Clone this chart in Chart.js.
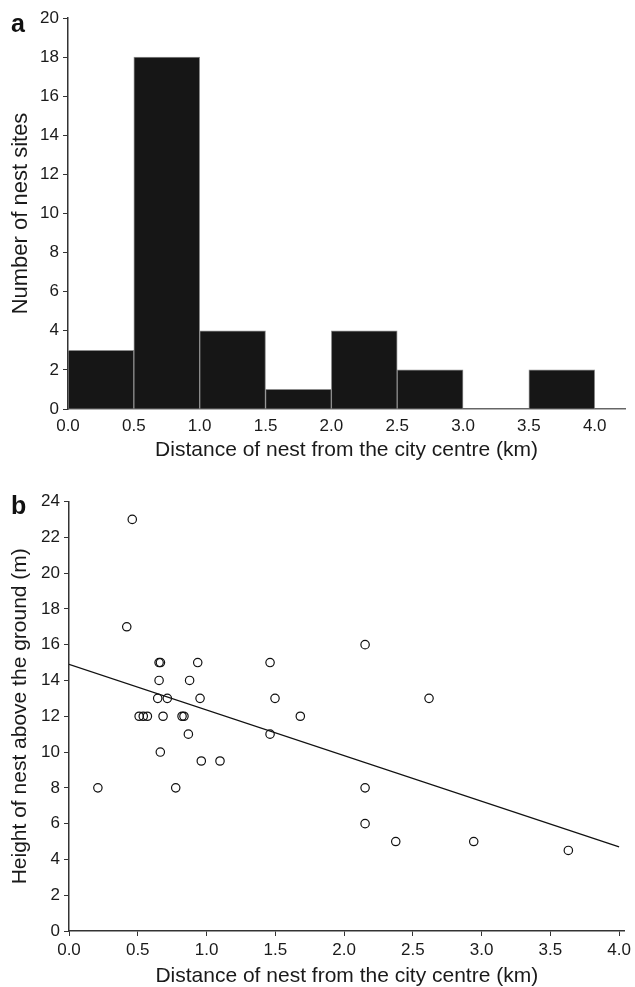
<!DOCTYPE html>
<html>
<head>
<meta charset="utf-8">
<script src="https://cdn.jsdelivr.net/npm/chart.js@4"></script>
<style>
  html, body { margin: 0; padding: 0; background: #fff; }
  #wrap { position: relative; width: 635px; height: 987px; overflow: hidden; }
  canvas { position: absolute; left: 0; }
  #histChart { top: 0; }
  #heightChart { top: 480px; }
  .panel { position: absolute; left: 11px; font: bold 25px "Liberation Sans", Arial, sans-serif; line-height: 25px; color: #111; }
</style>
</head>
<body>
<div id="wrap">
  <canvas id="histChart" width="635" height="480"></canvas>
  <canvas id="heightChart" width="635" height="507"></canvas>
  <div class="panel" style="top:11px">a</div>
  <div class="panel" style="top:493px">b</div>
</div>
<script>
// panel a: histogram of nest distances (bins of 0.5 km)
const binCentres = [0.25, 0.75, 1.25, 1.75, 2.25, 2.75, 3.25, 3.75];
const nestCounts = [3, 18, 4, 1, 4, 2, 0, 2];

// panel b: nest height vs distance
const distanceKm = [0.21, 0.42, 0.46, 0.51, 0.54, 0.57, 0.655, 0.665, 0.655, 0.645, 0.715,
                    0.684, 0.664, 0.776, 0.822, 0.836, 0.877, 0.868, 0.936, 0.953, 0.962,
                    1.098, 1.462, 1.498, 1.462, 1.682, 2.153, 2.153, 2.153, 2.376, 2.618,
                    2.943, 3.631];
const heightM = [8, 17, 23, 12, 12, 12, 15, 15, 14, 13, 13,
                 12, 10, 8, 12, 12, 14, 11, 15, 13, 9.5,
                 9.5, 15, 13, 11, 12, 16, 8, 6, 5, 13,
                 5, 4.5];

// regression line end points
const fitX = [0, 4];
const fitY = [14.9, 4.7];

const FONT = '"Liberation Sans", Arial, Helvetica, sans-serif';
const AXIS = '#333';
const TEXT = '#1a1a1a';

function fixWidth(w) { return function(scale) { scale.width = w; }; }
function fixHeight(h) { return function(scale) { scale.height = h; }; }

function tickFmt(v) { return v.toFixed(1); }

// ---- histogram ----
var histCtx = document.getElementById('histChart').getContext('2d');
new Chart(histCtx, {
    type: 'bar',
    data: {
        datasets: [{
            data: binCentres.map((c, i) => ({ x: c, y: nestCounts[i] })),
            backgroundColor: '#161616',
            borderColor: '#8c8c8c',
            borderWidth: 1,
            barPercentage: 1,
            categoryPercentage: 1
        }]
    },
    options: {
        responsive: false,
        animation: false,
        devicePixelRatio: 1,
        layout: { padding: { top: 18, right: 10, left: 0, bottom: 11 } },
        plugins: { legend: { display: false }, tooltip: { enabled: false } },
        scales: {
            x: {
                type: 'linear',
                offset: false,
                min: 0,
                max: 4.23,
                afterFit: fixHeight(60),
                grid: { display: true, drawOnChartArea: false, drawTicks: false },
                border: { display: true, color: '#666', width: 1.5 },
                ticks: { stepSize: 0.5, includeBounds: false, padding: 7, color: TEXT,
                         font: { family: FONT, size: 17 }, callback: tickFmt, maxRotation: 0 },
                title: { display: true, text: 'Distance of nest from the city centre (km)',
                         color: TEXT, font: { family: FONT, size: 21 }, padding: { top: 0, bottom: 6 } }
            },
            y: {
                min: 0,
                max: 20,
                afterFit: fixWidth(68),
                grid: { display: true, drawOnChartArea: false, drawTicks: true, tickLength: 5, tickColor: AXIS },
                border: { display: true, color: AXIS, width: 1.5 },
                ticks: { stepSize: 2, padding: 4, color: TEXT, font: { family: FONT, size: 17 } },
                title: { display: true, text: 'Number of nest sites', color: TEXT,
                         font: { family: FONT, size: 22 }, padding: { top: 8, bottom: 0 } }
            }
        }
    }
});

// ---- scatter with fitted line ----
var scatCtx = document.getElementById('heightChart').getContext('2d');
new Chart(scatCtx, {
    type: 'scatter',
    data: {
        datasets: [{
            data: distanceKm.map((d, i) => ({ x: d, y: heightM[i] })),
            pointStyle: 'circle',
            pointRadius: 4.2,
            pointBorderWidth: 1.2,
            pointBackgroundColor: 'rgba(255,255,255,0)',
            pointBorderColor: '#111'
        }, {
            type: 'line',
            data: fitX.map((d, i) => ({ x: d, y: fitY[i] })),
            borderColor: '#111',
            borderWidth: 1.3,
            pointRadius: 0,
            fill: false
        }]
    },
    options: {
        responsive: false,
        animation: false,
        devicePixelRatio: 1,
        layout: { padding: { top: 21.5, right: 10, left: 0, bottom: 0 } },
        plugins: { legend: { display: false }, tooltip: { enabled: false } },
        scales: {
            x: {
                type: 'linear',
                min: 0,
                max: 4.04,
                afterFit: fixHeight(56),
                grid: { display: true, drawOnChartArea: false, drawTicks: true, tickLength: 5, tickColor: AXIS },
                border: { display: true, color: AXIS, width: 1.5 },
                ticks: { stepSize: 0.5, includeBounds: false, padding: 4, color: TEXT,
                         font: { family: FONT, size: 17 }, callback: tickFmt, maxRotation: 0 },
                title: { display: true, text: 'Distance of nest from the city centre (km)',
                         color: TEXT, font: { family: FONT, size: 21, lineHeight: 1 }, padding: 0 }
            },
            y: {
                min: 0,
                max: 24,
                afterFit: fixWidth(69),
                grid: { display: true, drawOnChartArea: false, drawTicks: true, tickLength: 5, tickColor: AXIS },
                border: { display: true, color: AXIS, width: 1.5 },
                ticks: { stepSize: 2, padding: 4, color: TEXT, font: { family: FONT, size: 17 } },
                title: { display: true, text: 'Height of nest above the ground (m)', color: TEXT,
                         font: { family: FONT, size: 21 }, padding: { top: 8, bottom: 0 } }
            }
        }
    }
});
</script>
</body>
</html>
